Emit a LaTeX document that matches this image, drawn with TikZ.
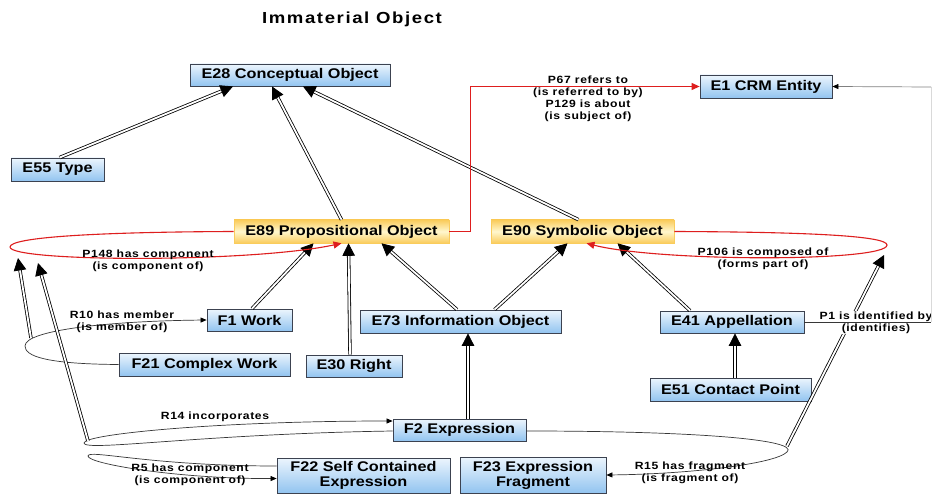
\documentclass[tikz,border=0pt]{standalone}
\usepackage{fontspec}
\setmainfont{Liberation Sans}
\newfontfamily\boxfont[FakeStretch=1.16]{Liberation Sans}
\newfontfamily\lblfont[FakeStretch=1.16,LetterSpace=6]{Liberation Sans}
\newfontfamily\ttlfont[FakeStretch=1.16,LetterSpace=10]{Liberation Sans}
\usetikzlibrary{arrows.meta}

\definecolor{bluetop}{RGB}{236,245,253}
\definecolor{bluebot}{RGB}{146,196,240}
\definecolor{boxline}{RGB}{60,66,80}
\definecolor{yeledge}{RGB}{250,204,92}
\definecolor{yelmid}{RGB}{255,247,206}
\definecolor{relred}{RGB}{222,30,30}
\definecolor{thinline}{RGB}{55,55,55}

\tikzset{
  classbox/.style={draw=boxline, line width=0.8pt, top color=bluetop, bottom color=bluebot,
    inner sep=0pt, align=center, font=\boxfont\bfseries\fontsize{14}{15}\selectfont},
  propbox/.style={draw=yeledge, line width=0.6pt, top color=yeledge, bottom color=yeledge,
    middle color=yelmid, inner sep=0pt, align=center, font=\boxfont\bfseries\fontsize{14}{15}\selectfont},
  isa/.style={draw=black, line width=0.8pt, double=white, double distance=1.8pt,
    -{Triangle[length=12.5pt,width=12.5pt]}},
  redrel/.style={draw=relred, line width=1.1pt, -{Triangle[length=8pt,width=7pt]}},
  relline/.style={draw=thinline, line width=0.7pt},
  relarrow/.style={relline, -{Triangle[length=6pt,width=5pt,color=black]}},
  lbl/.style={font=\lblfont\bfseries\fontsize{10.5}{12}\selectfont, align=center, inner sep=0pt},
}

\begin{document}
\begin{tikzpicture}[x=1pt,y=-1pt]
\useasboundingbox (0,0) rectangle (932,497);
\fill[white] (0,0) rectangle (932,497);

% heading
\node[font=\ttlfont\bfseries\fontsize{16}{18}\selectfont] (title) at (352,19) {Immaterial Object};

% classes
\node[classbox, minimum width=200pt, minimum height=22pt] (e28) at (290,75) {E28 Conceptual Object};
\node[classbox, minimum width=93pt,  minimum height=23pt] (e55) at (57.5,169.5) {E55 Type};
\node[classbox, minimum width=132pt, minimum height=23pt] (e1)  at (766,86.5) {E1 CRM Entity};
\node[propbox,  minimum width=215pt, minimum height=23pt] (e89) at (341.5,231.5) {E89 Propositional Object};
\node[propbox,  minimum width=183pt, minimum height=23pt] (e90) at (582.5,231.5) {E90 Symbolic Object};
\node[classbox, minimum width=85pt,  minimum height=22pt] (f1)  at (249.5,320) {F1 Work};
\node[classbox, minimum width=201pt, minimum height=23pt] (e73) at (460.5,321.5) {E73 Information Object};
\node[classbox, minimum width=144pt, minimum height=22pt] (e41) at (732,322) {E41 Appellation};
\node[classbox, minimum width=171pt, minimum height=23pt] (f21) at (204.5,364.5) {F21 Complex Work};
\node[classbox, minimum width=96pt,  minimum height=22pt] (e30) at (354,366) {E30 Right};
\node[classbox, minimum width=161pt, minimum height=23pt] (e51) at (730.5,389.5) {E51 Contact Point};
\node[classbox, minimum width=133pt, minimum height=22pt] (f2)  at (459.5,430) {F2 Expression};
\node[classbox, minimum width=173pt, minimum height=35pt] (f22) at (363.5,475.5) {F22 Self Contained\\Expression};
\node[classbox, minimum width=146pt, minimum height=36pt] (f23) at (533,475) {F23 Expression\\Fragment};

% subclass links
\draw[isa] ([xshift=2pt]e55.north) -- ([xshift=-57pt]e28.south);
\draw[isa] (e89.north) -- ([xshift=-18pt]e28.south);
\draw[isa] ([xshift=-4pt]e90.north) -- ([xshift=13pt]e28.south);
\draw[isa] ([xshift=2.5pt]f1.north) -- ([xshift=-28pt]e89.south);
\draw[isa] ([xshift=-4pt]e30.north) -- ([xshift=7pt]e89.south);
\draw[isa] ([xshift=-3.5pt]e73.north) -- ([xshift=40pt]e89.south);
\draw[isa] ([xshift=34pt]e73.north) -- ([xshift=-15pt]e90.south);
\draw[isa] ([xshift=-42pt]e41.north) -- ([xshift=35pt]e90.south);
\draw[isa] ([xshift=4.5pt]e51.north) -- ([xshift=3pt]e41.south);
\draw[isa] ([xshift=8.5pt]f2.north) -- ([xshift=7.5pt]e73.south);

% P67 / P129
\draw[redrel] (e89.east) -- ++(21,0) |- (e1.west);
\node[lbl] (p67) at (588,98.5) {P67 refers to\\(is referred to by)\\P129 is about\\(is subject of)};

% P148 has component
\coordinate (p148l) at (10,247);
\draw[redrel] (e89.west) .. controls (100,232) and (10,237) .. (p148l)
  .. controls (10,262) and (250,263) .. (e89.south);
\node[lbl] (p148) at (148,261) {P148 has component\\(is component of)};

% P106 is composed of
\coordinate (p106r) at (887,245);
\draw[redrel] (e90.east) .. controls (810,232) and (887,236) .. (p106r)
  .. controls (887,262) and (660,262) .. ([xshift=4pt]e90.south);
\node[lbl] (p106) at (763,259) {P106 is composed of\\(forms part of)};

% R10 has member
\coordinate (r10l) at (25,346);
\draw[relarrow] (f21.west) .. controls (45,364) and (25,356) .. (r10l)
  .. controls (25,330) and (110,321) .. (f1.west);
\node[lbl] (r10) at (122,322) {R10 has member\\(is member of)};

% R14 incorporates
\coordinate (r14l) at (84,443);
\draw[relarrow] ([yshift=-1pt]f2.west) .. controls (200,434) and (84,452) .. (r14l)
  .. controls (84,434) and (220,421) .. ([yshift=9pt]f2.west);
\node[lbl] (r14) at (215,417) {R14 incorporates};

% R5 has component
\coordinate (r5l) at (88,456);
\draw[relarrow] ([yshift=9.5pt]f22.west) .. controls (150,466) and (88,449) .. (r5l)
  .. controls (88,464) and (180,479) .. ([yshift=-3pt]f22.west);
\node[lbl] (r5) at (190,475) {R5 has component\\(is component of)};

% R15 has fragment
\coordinate (r15r) at (787,452);
\draw[relarrow] ([yshift=-1pt]f2.east) .. controls (700,431) and (800,440) .. (r15r)
  .. controls (775,464) and (690,474) .. (f23.east);
\node[lbl] (r15) at (690,472.5) {R15 has fragment\\(is fragment of)};

% sub-property links
\coordinate (r10s) at (31,338);
\coordinate (r14s) at (88,441);
\coordinate (r15s) at (787,446);
\coordinate (p148a) at (18,258);
\coordinate (p148b) at (38,263);
\coordinate (p106a) at (884,255);
\draw[isa] (r10s) -- (p148a);
\draw[isa] (r14s) -- (p148b);
\draw[isa] (r15s) -- (p106a);

% P1 is identified by (label masks the sub-property line behind it)
\node[lbl, fill=white, inner sep=1pt] (p1) at (876,322.5) {P1 is identified by\\(identifies)};
\coordinate (p1a) at (931,322);
\coordinate (p1b) at (931,87);
\draw[relline] (e41.east) -- (p1a);
\draw[relline, draw=gray!30] (p1a) -- (p1b);
\draw[relarrow, draw=gray] (p1b) -- (e1.east);
\end{tikzpicture}
\end{document}
